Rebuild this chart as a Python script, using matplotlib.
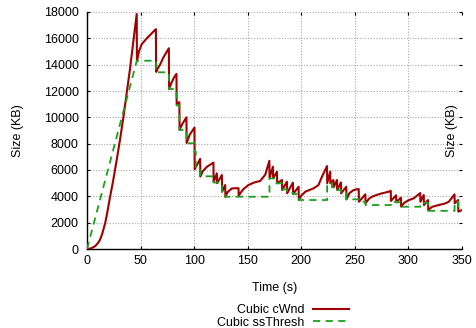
import matplotlib
matplotlib.use("Agg")
import matplotlib.pyplot as plt

plt.rcParams['font.family'] = ['Liberation Sans', 'DejaVu Sans']
plt.rcParams['font.size'] = 9

# Cubic congestion window (time s, size KB)
cwnd_t = [0, 2, 4, 6, 8, 10, 12, 14, 17, 19, 21.5, 24, 27.7, 31, 34, 37, 40, 43, 46.4,
          46.6, 48.5, 51, 55.8, 60, 64.3,
          64.5, 66, 68.2, 71.3, 76.4,
          76.6, 78.5, 81, 83.5,
          83.7, 86.2,
          86.4, 89, 92.8,
          93.0, 96, 100.3,
          100.5, 105.6,
          105.8, 108, 112, 118,
          118.2, 121.2,
          121.4, 125.9,
          126.1, 129,
          129.2, 131, 135.2, 141.4,
          141.6, 143, 146, 150.7, 156, 161.7, 166.4, 170.2,
          170.4, 173.5,
          173.7, 177.3,
          177.5, 182,
          182.2, 186.6,
          186.8, 192.2,
          192.4, 197.5,
          197.7, 200, 203.7, 211.5, 216, 219.3, 224,
          224.2, 227,
          227.2, 230,
          230.2, 233.3,
          233.5, 237,
          237.2, 242,
          242.2, 245, 248.9, 253.6,
          253.8, 259.8,
          260.0, 263, 266, 270, 275.4, 281.6, 283.5,
          283.7, 288.5,
          288.7, 293,
          293.2, 296, 300, 305, 311,
          311.2, 314.3,
          314.5, 318.3,
          318.5, 322, 328.3, 334, 337.7, 343,
          343.2, 346.4,
          346.6, 350]
cwnd_v = [0, 15, 60, 140, 250, 430, 680, 1100, 1975, 2800, 3950, 5000, 6760, 8400, 10025, 11800, 13600, 15600, 17850,
          14250, 15000, 15550, 16000, 16350, 16700,
          13450, 13700, 14000, 14550, 15250,
          12150, 12550, 13000, 13300,
          11000, 11150,
          9050, 9500, 10000,
          8050, 8700, 9220,
          6050, 6850,
          5500, 5900, 6250, 6560,
          5100, 5750,
          5000, 5620,
          4350, 4860,
          3950, 4300, 4600, 4620,
          4030, 4230, 4550, 4860, 5050, 5170, 5650, 6700,
          5400, 6250,
          5370, 5870,
          4990, 5240,
          4480, 5110,
          4230, 5040,
          4180, 4730,
          3720, 4050, 4350, 4610, 4850, 5490, 6300,
          4990, 5870,
          4990, 5240,
          4690, 5240,
          4480, 5060,
          4230, 4730,
          3770, 4250, 4480, 4560,
          3590, 4150,
          3470, 3800, 3970, 4100, 4230, 4350, 4420,
          3650, 4080,
          3550, 3900,
          3220, 3500, 3700, 3850, 4250,
          3590, 4100,
          3340, 3720,
          2960, 3200, 3340, 3450, 3590, 4150,
          3470, 3720,
          2840, 2950]

# Cubic slow-start threshold (time s, size KB)
ssth_t = [0, 46.5, 64.4, 64.4, 76.5, 76.5, 83.6, 83.6, 86.3, 86.3,
          92.9, 92.9, 100.4, 100.4, 101.5, 101.5, 105.7, 105.7, 118.1, 118.1,
          126.0, 126.0, 129.1, 129.1, 170.3, 170.3, 176.8, 176.8, 182.1, 182.1,
          186.7, 186.7, 192.3, 192.3, 197.6, 197.6, 224.1, 224.1, 228.6, 228.6,
          233.4, 233.4, 237.1, 237.1, 242.1, 242.1, 253.7, 253.7, 259.9, 259.9,
          283.6, 283.6, 288.6, 288.6, 293.1, 293.1, 311.1, 311.1, 318.4, 318.4,
          343.1, 343.1, 346.5, 346.5, 350]
ssth_v = [0, 14300, 14300, 13420, 13420, 12150, 12150, 10900, 10900, 9040,
          9040, 8030, 8030, 7400, 7400, 6000, 6000, 5520, 5520, 5050,
          5050, 4350, 4350, 3970, 3970, 5370, 5370, 4990, 4990, 4530,
          4530, 4280, 4280, 4180, 4180, 3720, 3720, 4990, 4990, 4690,
          4690, 4480, 4480, 4230, 4230, 3770, 3770, 3590, 3590, 3340,
          3340, 3590, 3590, 3550, 3550, 3210, 3210, 3500, 3500, 2900,
          2900, 3590, 3590, 3000, 3000]

xticks = [0, 50, 100, 150, 200, 250, 300, 350]
yticks = [0, 2000, 4000, 6000, 8000, 10000, 12000, 14000, 16000, 18000]

W, H = 476, 328
fig = plt.figure(figsize=(W / 100, H / 100), dpi=100)
ax = fig.add_axes([87 / W, 1 - 249 / H, (462 - 87) / W, (249 - 12) / H])

ax.plot(cwnd_t, cwnd_v, color='#a00000', lw=1.5, label='Cubic cWnd', zorder=3)
ax.plot(ssth_t, ssth_v, color='#1aa01a', lw=1.3, ls=(0, (4, 3)),
        label='Cubic ssThresh', zorder=4)

ax.set_xlim(0, 350)
ax.set_ylim(0, 18000)
ax.set_xticks(xticks)
ax.set_yticks(yticks)
ax.tick_params(direction='in', length=2.5, width=0.8, top=True, right=True,
               labelsize=9, colors='black')
ax.tick_params(axis='y', pad=6)
ax.tick_params(axis='x', pad=4)
ax.grid(True, color='#a8a8a8', lw=0.8, ls=(0, (1, 1.5)))
ax.set_axisbelow(True)
for s in ['top', 'right']:
    ax.spines[s].set_visible(False)
for s in ['left', 'bottom']:
    ax.spines[s].set_linewidth(1.0)

ax.set_xlabel('Time (s)', fontsize=9)
ax.xaxis.set_label_coords(0.5, (249 - 281.7) / 237)
ax.set_ylabel('Size (KB)', fontsize=9)
ax.yaxis.set_label_coords((24 - 87) / 375, 0.5)
ax.text((452 - 87) / 375, 0.5, 'Size (KB)', rotation=90, ha='center',
        va='center', fontsize=9, transform=ax.transAxes)

fig.legend(loc='upper right', bbox_to_anchor=(349 / W, 1 - 304 / H),
           markerfirst=False, frameon=False, handlelength=2.85,
           handletextpad=0.7, labelspacing=0.05, borderpad=0, borderaxespad=0,
           fontsize=9)

fig.savefig('out.png', dpi=100)
